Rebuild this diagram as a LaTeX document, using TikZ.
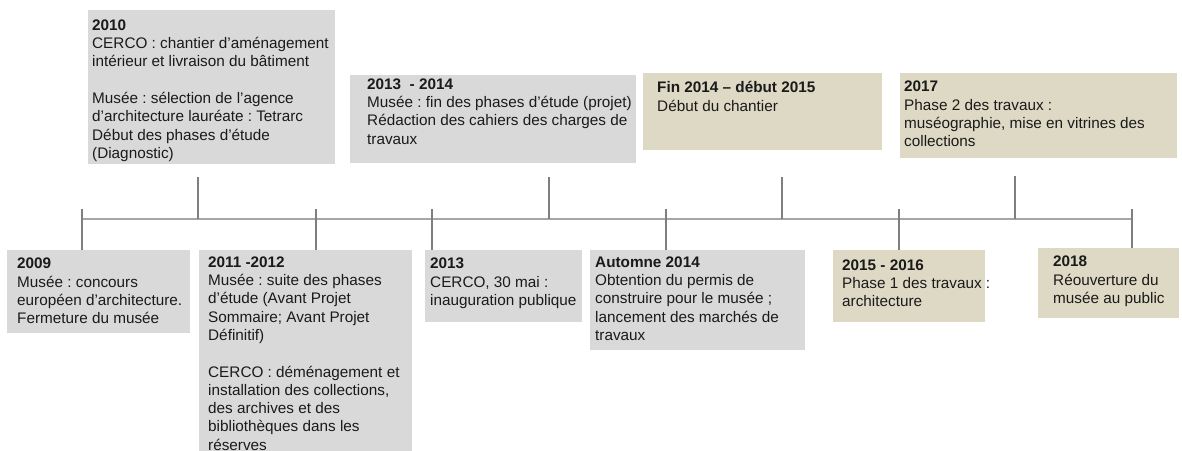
\documentclass[tikz,border=0pt]{standalone}
\usepackage{fontspec}
\setmainfont{Liberation Sans}
\frenchspacing

\definecolor{grisbox}{HTML}{D9D9D9}
\definecolor{beigebox}{HTML}{DDD9C4}
\definecolor{grisligne}{HTML}{A6A6A6}
\definecolor{grisconn}{HTML}{7F7F7F}
\definecolor{texte}{HTML}{1A1A1A}

% largeur, hauteur, marge gauche, hauteur de la premiere ligne, texte
\newcommand{\evt}[5]{\parbox[t][#2][t]{#1}{\raggedright\leftskip=#3\relax\rule{0pt}{#4}#5}}

\begin{document}
\begin{tikzpicture}[x=1pt,y=-1pt]

      \useasboundingbox (0,0) rectangle (1182,450);
      \clip (0,0) rectangle (1182,450);

      \begin{scope}[every node/.style={anchor=north west,inner sep=0pt,text=texte,
          font=\fontsize{15.3}{18.3}\selectfont},
          gris/.style={fill=grisbox}, beige/.style={fill=beigebox}]
        % au-dessus de la frise
        \node[gris] (b2010) at (88,10) {\evt{247pt}{154pt}{4pt}{20pt}{\textbf{2010}\\
            CERCO : chantier d’aménagement\\
            intérieur et livraison du bâtiment\\[18.3pt]
            Musée : sélection de l’agence\\
            d’architecture lauréate : Tetrarc\\
            Début des phases d’étude\\
            (Diagnostic)}};
        \node[gris] (b1314) at (350,75) {\evt{286pt}{88pt}{17pt}{14pt}{\textbf{2013 \ - 2014}\\
            Musée : fin des phases d’étude (projet)\\
            Rédaction des cahiers des charges de\\
            travaux}};
        \node[beige] (b1415) at (643,73) {\evt{239pt}{77pt}{14pt}{19.5pt}{\textbf{Fin 2014 – début 2015}\\
            Début du chantier}};
        \node[beige] (b2017) at (900,73) {\evt{277pt}{85pt}{4pt}{18.5pt}{\textbf{2017}\\
            Phase 2 des travaux :\\
            muséographie, mise en vitrines des\\
            collections}};
        % au-dessous de la frise
        \node[gris] (b2009) at (7,250) {\evt{183pt}{83pt}{10pt}{18.5pt}{\textbf{2009}\\
            Musée : concours\\
            européen d’architecture.\\
            Fermeture du musée}};
        \node[gris] (b1112) at (199,250) {\evt{213pt}{220pt}{9pt}{17pt}{\textbf{2011 -2012}\\
            Musée : suite des phases\\
            d’étude (Avant Projet\\
            Sommaire; Avant Projet\\
            Définitif)\\[18.3pt]
            CERCO : déménagement et\\
            installation des collections,\\
            des archives et des\\
            bibliothèques dans les\\
            réserves}};
        \node[gris] (b2013) at (425,250) {\evt{157pt}{72pt}{5pt}{18.5pt}{\textbf{2013}\\
            CERCO, 30 mai :\\
            inauguration publique}};
        \node[gris] (bA14) at (590,250) {\evt{215pt}{100pt}{5pt}{17pt}{\textbf{Automne 2014}\\
            Obtention du permis de\\
            construire pour le musée ;\\
            lancement des marchés de\\
            travaux}};
        \node[beige] (b1516) at (833,250) {\evt{152pt}{72pt}{9pt}{20pt}{\textbf{2015 - 2016}\\
            \mbox{Phase 1 des travaux :}\\
            architecture}};
        \node[beige] (b2018) at (1038,248) {\evt{141pt}{70pt}{15pt}{18.5pt}{\textbf{2018}\\
            Réouverture du\\
            musée au public}};
      \end{scope}

      % la frise
      \coordinate (debut) at (82,219);
      \coordinate (fin) at (1132,219);
      \draw[draw=grisligne,line width=2.6pt] (debut) -- (fin);

      \coordinate (k2009) at (82,209);
      \coordinate (k1112) at (316,209);
      \coordinate (k2013) at (432,209);
      \coordinate (kA14) at (666,209);
      \coordinate (k1516) at (899,209);
      \coordinate (k2018) at (1132,209);

      \coordinate (h2010) at (198,177);
      \coordinate (h1314) at (549,177);
      \coordinate (h1415) at (782,177);
      \coordinate (h2017) at (1015,176);

      \begin{scope}[every edge/.style={draw=grisconn,line width=1.2pt}]
        \path (k2009) edge (k2009 |- b2009.north);
        \path (k1112) edge (k1112 |- b1112.north);
        \path (k2013) edge (k2013 |- b2013.north);
        \path (kA14) edge (kA14 |- bA14.north);
        \path (k1516) edge (k1516 |- b1516.north);
        \path (k2018) edge (k2018 |- b2018.north);

        \path (h2010) edge (h2010 |- debut);
        \path (h1314) edge (h1314 |- debut);
        \path (h1415) edge (h1415 |- debut);
        \path (h2017) edge (h2017 |- debut);
      \end{scope}

    \end{tikzpicture}
\end{document}
